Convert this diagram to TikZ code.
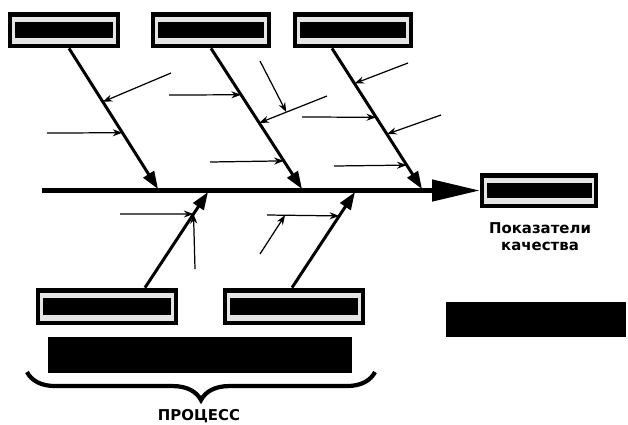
\documentclass[tikz,border=0pt]{standalone}
\usepackage{fontspec}
\newfontfamily\capfont{DejaVu Sans}
\usetikzlibrary{arrows.meta,decorations.pathreplacing}

\tikzset{
  cause/.style={fill=black, inner sep=0pt, minimum height=0.72cm,
    path picture={
      \fill[gray!20] ([shift={(0.08cm,-0.1cm)}]path picture bounding box.north west)
        rectangle ([shift={(-0.08cm,0.09cm)}]path picture bounding box.south east);
      \fill[black] ([shift={(0.13cm,-0.2cm)}]path picture bounding box.north west)
        rectangle ([shift={(-0.13cm,0.2cm)}]path picture bounding box.south east);
      \fill[gray!20] ([shift={(0.2cm,-0.12cm)}]path picture bounding box.north west)
        rectangle ([shift={(-0.2cm,-0.17cm)}]path picture bounding box.north east);
    }},
  blackbar/.style={fill=black, inner sep=0pt},
  bone/.style={line width=1.7pt, -{Triangle[length=10pt,width=7pt]}},
  spine/.style={line width=2.3pt, -{Triangle[length=27pt,width=12pt]}},
  twig/.style={line width=0.7pt, -{Stealth[length=5.5pt,width=4pt]}},
  caption/.style={font=\capfont\bfseries\fontsize{8.5}{10}\selectfont, align=center}
}

\begin{document}
\begin{tikzpicture}[x=0.02cm,y=-0.02cm]
  \useasboundingbox (0,0) rectangle (628,424);

  % cause boxes
  \node[cause, minimum width=2.24cm] (c1) at (64,30) {};
  \node[cause, minimum width=2.4cm]  (c2) at (211,30) {};
  \node[cause, minimum width=2.4cm]  (c3) at (353,30) {};
  \node[cause, minimum width=2.84cm, minimum height=0.74cm] (c4) at (107,306.5) {};
  \node[cause, minimum width=2.84cm, minimum height=0.74cm] (c5) at (294,306.5) {};

  % effect
  \node[cause, minimum width=2.36cm, minimum height=0.7cm] (res) at (539,190.5) {};
  \node[caption, anchor=north] (reslabel) at (540,216) {Показатели\\качества};
  \node[blackbar, minimum width=3.6cm, minimum height=0.7cm] (rbar) at (536,319.5) {};

  % spine
  \coordinate (tail) at (42,190.5);
  \draw[spine] (tail) -- (res.west);

  % main bones
  \coordinate (j1) at (158,189);
  \coordinate (j2) at (302,189);
  \coordinate (j3) at (422,189);
  \coordinate (j4) at (208,192);
  \coordinate (j5) at (355,192);
  \draw[bone] ([xshift=0.1cm]c1.south) -- coordinate[pos=0.38] (b1a)
    coordinate[pos=0.6] (b1b) (j1);
  \draw[bone] (c2.south) -- coordinate[pos=0.33] (b2a)
    coordinate[pos=0.53] (b2b) coordinate[pos=0.8] (b2c) (j2);
  \draw[bone] ([xshift=-0.42cm]c3.south) -- coordinate[pos=0.25] (b3a)
    coordinate[pos=0.49] (b3b) coordinate[pos=0.61] (b3c) coordinate[pos=0.83] (b3d) (j3);
  \draw[bone] ([xshift=0.76cm]c4.north) -- coordinate[pos=0.77] (b4a) (j4);
  \draw[bone] ([xshift=-0.04cm]c5.north) -- coordinate[pos=0.75] (b5a) (j5);

  % secondary causes
  \foreach \x/\y/\t in {171/73/b1a, 47/133/b1b, 169/95/b2a, 210/162/b2c,
      408/63/b3a, 302/117/b3b, 441/115/b3c, 334/166/b3d,
      120/214/b4a, 195/269/b4a} {
    \draw[twig] (\x,\y) -- (\t);
  }
  \draw[twig] (327,96) -- coordinate[pos=0.6] (s2) (b2b);
  \draw[twig] (260,61) -- (s2);
  \draw[twig] (267,215) -- coordinate[pos=0.25] (s5) (b5a);
  \draw[twig] (260,254) -- (s5);

  % process
  \node[blackbar, minimum width=6.08cm, minimum height=0.72cm] (proc) at (200,355) {};
  \coordinate (br1) at (27,372);
  \coordinate (br2) at (375,372);
  \draw[line width=2.4pt, decorate, decoration={brace,mirror,amplitude=16pt}] (br1) -- (br2);
  \node[caption] (proclabel) at (199,416) {ПРОЦЕСС};

\end{tikzpicture}
\end{document}
